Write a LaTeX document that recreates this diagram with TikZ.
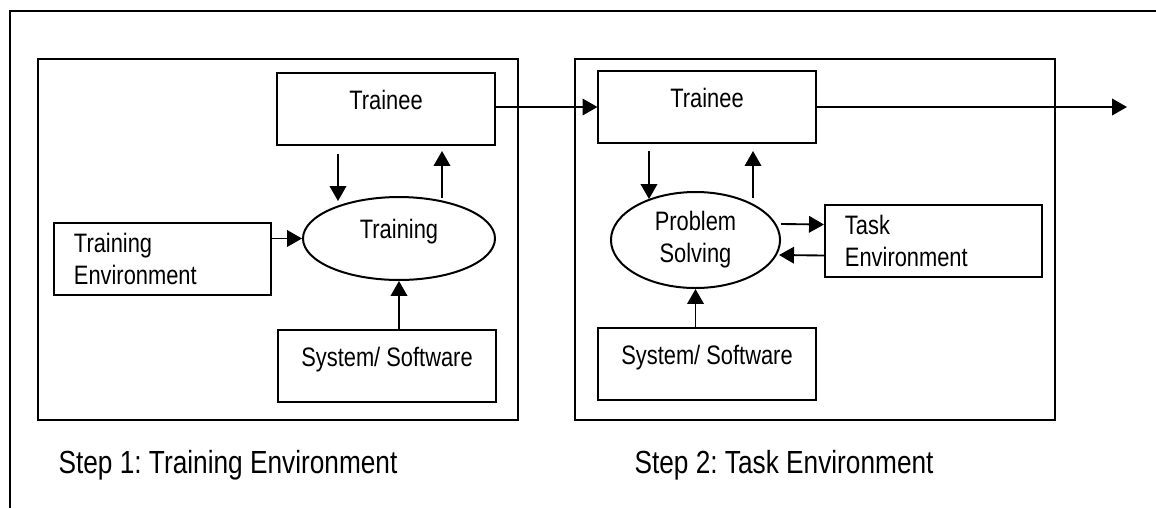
\documentclass[tikz,border=0pt]{standalone}
\usepackage{fontspec}
\setmainfont{Liberation Sans}[FakeStretch=0.82]
\usetikzlibrary{arrows.meta,calc,shapes.geometric}
\frenchspacing

\begin{document}
\begin{tikzpicture}[x=0.375pt, y=-0.375pt,
    box/.style={draw, line width=0.75pt, minimum width=81.4pt, minimum height=27pt, inner sep=0pt},
    onebox/.style={box, text height=7.5pt, text depth=7.5pt},
    twobox/.style={box, align=left, text width=66.4pt, inner xsep=7.5pt},
    oval/.style={draw, ellipse, line width=0.75pt, inner sep=0pt},
    arr/.style={line width=0.7pt, -{Triangle[width=6.2pt, length=5.6pt]}},
    steplabel/.style={anchor=base west, inner sep=0pt, font=\fontsize{12}{14}\selectfont}]

    \useasboundingbox (0,0) rectangle (1156,508);
    \draw[line width=0.9pt] (1156,11) -- (10,11) -- (10,508);
    \foreach \xa/\xb in {38/518, 575/1055} \draw[line width=0.75pt] (\xa,59) rectangle (\xb,420);

    % step 1
    \node[onebox] (tr1) at (386,109) {Trainee};
    \node[oval, minimum width=72pt, minimum height=31.1pt, text height=7.5pt, text depth=7.5pt] (el1) at (399,238.5) {Training};
    \node[twobox] (te1) at (162.5,259) {Training\\Environment};
    \node[onebox] (ss1) at (387,366) {System/ Software};
    \node[steplabel] (step1) at (58,473) {Step 1: Training Environment};

    \draw[arr] ($(tr1.south)+(-48,8)$) -- ($(tr1.south)+(-48,55)$);
    \draw[arr] ($(tr1.south)+(56,52)$) -- ($(tr1.south)+(56,5)$);
    \draw[arr] (te1.east |- el1.west) -- (el1.west);
    \draw[arr] (ss1.north -| el1.south) -- (el1.south);

    % step 2
    \node[onebox] (tr2) at (707,107) {Trainee};
    \node[oval, minimum width=63.4pt, minimum height=36pt, align=center] (el2) at (695.5,240) {Problem\\Solving};
    \node[twobox] (task) at (933.5,240.5) {Task\\Environment};
    \node[onebox] (ss2) at (707,364) {System/ Software};
    \node[steplabel] (step2) at (634,473) {Step 2: Task Environment};
    \coordinate (out) at (1127,107);

    \draw[arr] (tr2.west -| tr1.east) -- (tr2.west);
    \draw[arr] ($(tr2.south)+(-58,7)$) -- ($(tr2.south)+(-58,55)$);
    \draw[arr] ($(tr2.south)+(46,54)$) -- ($(tr2.south)+(46,7)$);
    \draw[arr] ($(el2.east)+(0,-16)$) -- ($(task.west)+(0,-16)$);
    \draw[arr] ($(task.west)+(0,15)$) -- ($(el2.east)+(-2,15)$);
    \draw[arr] (ss2.north -| el2.south) -- (el2.south);
    \draw[arr] (tr2.east) -- (out);

\end{tikzpicture}
\end{document}
